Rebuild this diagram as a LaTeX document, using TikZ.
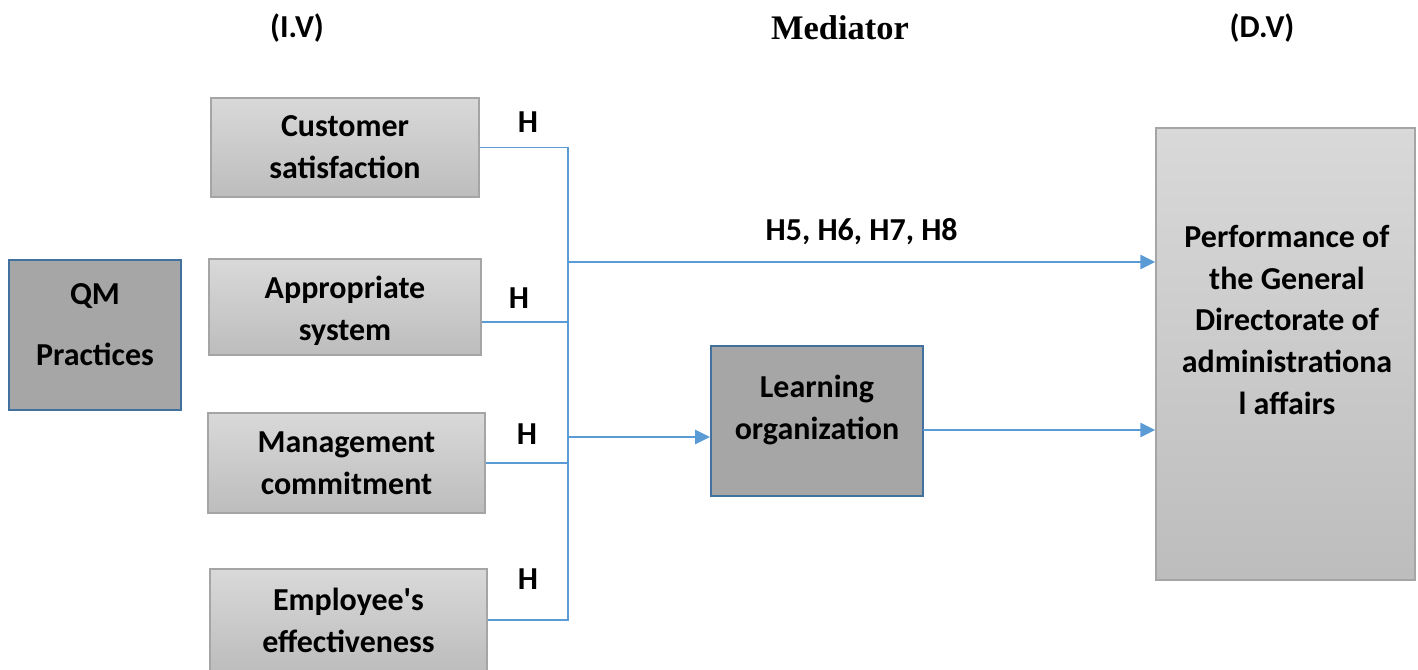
\documentclass[tikz,border=0pt]{standalone}
\usepackage{fontspec}
\setmainfont{Carlito}[Ligatures=TeXOff]
\newfontfamily\medfont{Liberation Serif}
\usepackage{xcolor}
\usetikzlibrary{positioning, arrows.meta}

\definecolor{linkblue}{HTML}{5B9BD5}
\definecolor{edgeblue}{HTML}{41719C}
\definecolor{darkfill}{HTML}{A6A6A6}
\definecolor{lightedge}{HTML}{A5A5A5}

\begin{document}
\begin{tikzpicture}[
            x=0.02cm, y=-0.02cm,
            txt/.style={font=\bfseries\fontsize{18.2}{23.8}\selectfont, align=center},
            ivbox/.style={txt, rectangle, draw=lightedge, line width=0.8pt,
                top color=black!15, bottom color=black!26, inner sep=0pt},
            midbox/.style={txt, rectangle, draw=edgeblue, line width=1.1pt,
                fill=darkfill, inner sep=0pt},
            link/.style={draw=linkblue, line width=0.8pt},
            arr/.style={draw=linkblue, line width=1.4pt,
                -{Triangle[length=0.3cm, width=0.28cm]}},
        ]
            \useasboundingbox (0,0) rectangle (1418,670);
            \node[txt] (iv) at (297,28) {(I.V)};
            \node[font=\medfont\bfseries\fontsize{19.6}{23}\selectfont] (med) at (840,28) {Mediator};
            \node[txt] (dvh) at (1262,28) {(D.V)};

            \node[midbox, minimum width=3.44cm, minimum height=3cm] (qm) at (95,335) {};
            \node[txt] (qmtext) at (95,325) {QM\\[0.38cm]Practices};

            \node[ivbox, minimum width=5.36cm, minimum height=1.98cm] (cs) at (345,147.5) {Customer\\satisfaction};
            \node[ivbox, minimum width=5.44cm, minimum height=1.92cm] (as) at (345,307) {};
            \node[txt] (astext) at (345,311) {Appropriate\\system};
            \node[ivbox, minimum width=5.54cm, minimum height=2cm] (mc) at (346.5,463) {Management\\commitment};
            \node[ivbox, minimum width=5.54cm, minimum height=2.04cm] (ee) at (348.5,620) {Employee's\\effectiveness};

            \node[midbox, minimum width=4.24cm, minimum height=3cm] (lo) at (817,421) {};
            \node[txt] (lotext) at (817,410) {Learning\\organization};

            \node[ivbox, minimum width=5.18cm, minimum height=9.04cm] (dv) at (1285.5,354) {};
            \node[txt] (dvtext) at (1287,320) {Performance of\\the General\\Directorate of\\administrationa\\l affairs};

            \coordinate (jx) at (568,0);
            \coordinate (asy) at (0,322);
            \draw[link] (cs.east) -- (cs.east -| jx) -- (ee.east -| jx) -- (ee.east);
            \draw[link] (as.east |- asy) -- (asy -| jx);
            \draw[link] (mc.east) -- (mc.east -| jx);

            \node[txt] (h1) at (528,122) {H};
            \node[txt] (h2) at (519,298) {H};
            \node[txt] (h3) at (527,434) {H};
            \node[txt] (h4) at (528,579) {H};

            \coordinate (a1) at (568,262);
            \coordinate (a2) at (568,437);
            \coordinate (a3) at (923,430);
            \draw[arr] (a1) -- (a1 -| dv.west) node[txt, midway, above=0.2cm] (hall) {H5, H6, H7, H8};
            \draw[arr] (a2) -- (a2 -| lo.west);
            \draw[arr] (a3) -- (a3 -| dv.west);
        \end{tikzpicture}
\end{document}
